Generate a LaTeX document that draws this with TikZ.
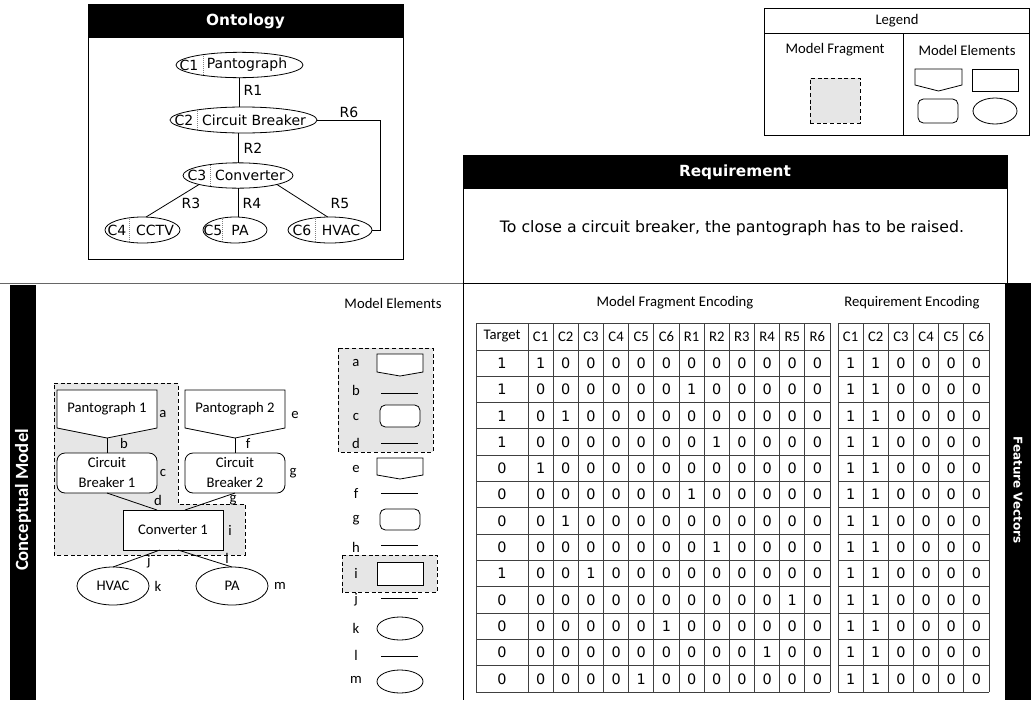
\documentclass[tikz,border=0pt]{standalone}
\usepackage{fontspec}
\setmainfont{Carlito}
\newfontfamily\vfont{DejaVu Sans}
\usetikzlibrary{calc,shapes.geometric}
\definecolor{fraggray}{HTML}{E6E6E6}
\definecolor{tblline}{HTML}{404040}
\begin{document}
\begin{tikzpicture}[x=0.75pt,y=-0.75pt, line width=0.6pt,
  every node/.style={inner sep=0pt, outer sep=0pt},
  cal/.style={font=\fontsize{11}{15}\selectfont},
  ver/.style={font=\vfont\fontsize{10.5}{12}\selectfont},
  dig/.style={font=\vfont\fontsize{10.8}{12}\selectfont},
  hdr/.style={text=white, font=\vfont\bfseries\fontsize{11.5}{13}\selectfont},
  onto/.style={draw, ellipse, minimum height=19pt},
  dotsep/.style={path picture={\draw[densely dotted, line width=0.5pt, gray]
      ([xshift=#1]path picture bounding box.north west) --
      ([xshift=#1]path picture bounding box.south west);}},
  frag/.style={draw, dash pattern=on 3pt off 2pt, fill=fraggray, line width=0.6pt},
  tbl/.style={draw=tblline, line width=0.7pt},
  elem/.style={draw, fill=white}
]
\useasboundingbox (0,0) rectangle (1031,700);

% ---------------- global frame lines ----------------
\draw[gray!80!black] (0,283) -- (1031,283);
\draw (463,155) rectangle (1007,283);
\draw (463,283) -- (463,700);

% ---------------- Ontology ----------------
\fill (88,4) rectangle (403,38);
\draw (88,4) rectangle (403,259);
\node[hdr] (ontot) at (245.5,21) {Ontology};

\node[onto, minimum width=95.25pt, dotsep=20.25pt] (c1) at (239.5,65) {};
\node[onto, minimum width=110.25pt, minimum height=19.5pt, dotsep=20.25pt] (c2) at (243.5,120) {};
\node[onto, minimum width=82.5pt, dotsep=20.25pt] (c3) at (238,175.5) {};
\node[onto, minimum width=56.25pt, minimum height=19.5pt, dotsep=18pt] (c4) at (142.5,230) {};
\node[onto, minimum width=48pt, minimum height=19.5pt, dotsep=14.25pt] (c5) at (235,230) {};
\node[onto, minimum width=63pt, minimum height=19.5pt, dotsep=20.25pt] (c6) at (330,230) {};

\node[ver] (c1id) at (189,65) {C1};   \node[ver] (c1tx) at (247,65) {Pantograph};
\node[ver] (c2id) at (184,120) {C2};  \node[ver] (c2tx) at (254,120) {Circuit Breaker};
\node[ver] (c3id) at (197,175.5) {C3}; \node[ver] (c3tx) at (250,175.5) {Converter};
\node[ver] (c4id) at (117,230) {C4};  \node[ver] (c4tx) at (155,230) {CCTV};
\node[ver] (c5id) at (213,230) {C5};  \node[ver] (c5tx) at (240,230) {PA};
\node[ver] (c6id) at (302,230) {C6};  \node[ver] (c6tx) at (341,230) {HVAC};

\draw (c1.south) -- (c1.south |- c2.north);
\draw (c3.north |- c2.south) -- (c3.north);
\draw (c3.south) -- (c3.south |- c5.north);
\draw (c3.south west) -- (c4.75);
\draw (c3.south east) -- (c6.100);
\draw (c2.east) -- ++(63,0) coordinate (r6c) |- (c6.east);

\node[ver] (r1) at (253,90) {R1};
\node[ver] (r2) at (253,148) {R2};
\node[ver] (r3) at (191,203) {R3};
\node[ver] (r4) at (252,203) {R4};
\node[ver] (r5) at (340,203) {R5};
\node[ver] (r6) at (349,112) {R6};

% ---------------- Legend ----------------
\draw (764,8) rectangle (1029,135);
\draw (764,33) -- (1029,33);
\draw (903,33) -- (903,135);
\node[cal] (lgt) at (897,21) {Legend};
\node[cal] (lgmf) at (835,50) {Model Fragment};
\node[cal] (lgme) at (967,50) {Model Elements};
\node[frag, minimum width=37.5pt, minimum height=33.75pt] (lgfrag) at (835,100.5) {};
\node[minimum width=35.25pt, minimum height=12pt] (lgpent) at (938.5,77) {};
\draw (lgpent.north west) -- (lgpent.north east) -- (lgpent.south east) -- ($(lgpent.south)+(0,6)$) -- (lgpent.south west) -- cycle;
\node[draw, minimum width=34.5pt, minimum height=16.5pt] (lgrect) at (995,80) {};
\node[draw, rounded corners=4pt, minimum width=30pt, minimum height=18pt] (lground) at (938,111) {};
\node[draw, ellipse, minimum width=33pt, minimum height=19.5pt] (lgell) at (995,111) {};

% ---------------- Requirement ----------------
\fill (463,155) rectangle (1007,189);
\node[hdr] (reqt) at (735,172) {Requirement};
\node[font=\vfont\fontsize{11.8}{13}\selectfont] (reqtext) at (732,228)
  {To close a circuit breaker, the pantograph has to be raised.};

% ---------------- side bars ----------------
\fill (10,285) rectangle (36,700);
\node[rotate=90, text=white, font=\bfseries\fontsize{14}{16}\selectfont] (cmt) at (23,500) {Conceptual Model};
\fill (1005,283) rectangle (1031,700);
\node[rotate=-90, text=white, font=\vfont\bfseries\fontsize{9}{11}\selectfont] (fvt) at (1018,490) {Feature Vectors};

% ---------------- Conceptual model ----------------
\path[frag] (54,383) -- (178,383) -- (178,504) -- (245,504) -- (245,555) -- (54,555) -- cycle;

\node[cal, minimum width=75pt, minimum height=28.5pt] (p1) at (107,409) {};
\filldraw[fill=white] (p1.north west) -- (p1.north east) -- (p1.south east) -- ($(p1.south)+(0,10)$) coordinate (p1tip) -- (p1.south west) -- cycle;
\node[cal] (p1tx) at (p1) {Pantograph 1};
\node[cal, minimum width=75pt, minimum height=28.5pt] (p2) at (235,409) {};
\filldraw[fill=white] (p2.north west) -- (p2.north east) -- (p2.south east) -- ($(p2.south)+(0,10)$) coordinate (p2tip) -- (p2.south west) -- cycle;
\node[cal] (p2tx) at (p2) {Pantograph 2};

\node[cal, elem, rounded corners=6pt, minimum width=75pt, minimum height=30pt, align=center] (cb1) at (107,473) {Circuit\\Breaker 1};
\node[cal, elem, rounded corners=6pt, minimum width=75pt, minimum height=30pt, align=center] (cb2) at (235,473) {Circuit\\Breaker 2};
\node[cal, elem, minimum width=75pt, minimum height=30pt] (conv) at (173,530) {Converter 1};
\node[cal, elem, ellipse, minimum width=54pt, minimum height=28.5pt] (hvac) at (113,586) {HVAC};
\node[cal, elem, ellipse, minimum width=54pt, minimum height=28.5pt] (pa) at (232,586) {PA};

\draw (p1tip) -- (cb1.north);
\draw (p2tip) -- (cb2.north);
\draw (cb1.south) -- ($(conv.north west)!0.34!(conv.north east)$);
\draw (cb2.south) -- ($(conv.north west)!0.62!(conv.north east)$);
\draw ($(conv.south west)!0.37!(conv.south east)$) -- (hvac.north);
\draw ($(conv.south west)!0.55!(conv.south east)$) -- (pa.north);

\node[cal] (la) at (163,414) {a};
\node[cal] (lb) at (124,443) {b};
\node[cal] (lc) at (163,473) {c};
\node[cal] (ld) at (158,500) {d};
\node[cal] (le) at (295,415) {e};
\node[cal] (lf) at (248,443) {f};
\node[cal] (lg) at (293,473) {g};
\node[cal] (lg2) at (233,500) {g};
\node[cal] (li) at (230,530) {i};
\node[cal] (lj) at (149,562) {j};
\node[cal] (lk) at (158,586) {k};
\node[cal] (ll) at (227,558) {l};
\node[cal] (lm) at (280,586) {m};

% ---------------- Model elements column ----------------
\node[cal] (met) at (393,303) {Model Elements};
\path[frag] (338,348) rectangle (433,452);
\path[frag] (342,555) rectangle (437,592);

\node[minimum width=34.5pt, minimum height=13.5pt] (mea) at (400,363) {};
\filldraw[fill=white] (mea.north west) -- (mea.north east) -- (mea.south east) -- ($(mea.south)+(0,4)$) -- (mea.south west) -- cycle;
\draw (381,393) -- (418,393);
\node[elem, rounded corners=4pt, minimum width=30pt, minimum height=16.5pt] (mec) at (400,416) {};
\draw (381,443) -- (418,443);
\node[minimum width=34.5pt, minimum height=12.75pt] (mee) at (400,466.5) {};
\filldraw[fill=white] (mee.north west) -- (mee.north east) -- (mee.south east) -- ($(mee.south)+(0,4)$) -- (mee.south west) -- cycle;
\draw (381,493) -- (418,493);
\node[elem, rounded corners=4pt, minimum width=30pt, minimum height=15.75pt] (meg) at (400,519.5) {};
\draw (381,545) -- (418,545);
\node[elem, minimum width=34.5pt, minimum height=17.25pt] (mei) at (400,573.5) {};
\draw (381,598) -- (418,598);
\node[elem, ellipse, minimum width=34.5pt, minimum height=17.25pt] (mek) at (400,628.5) {};
\draw (381,656) -- (418,656);
\node[elem, ellipse, minimum width=34.5pt, minimum height=17.25pt] (mem) at (400,681.5) {};

\foreach \t/\yy in {a/363,b/390,c/417,d/443,e/469,f/493,g/520,h/547,i/573,j/600,k/628,l/655,m/680}
  \node[cal] (mel-\t) at (356,\yy) {\t};

% ---------------- Tables ----------------
\node[cal] (mfe) at (675,303) {Model Fragment Encoding};
\node[cal] (rqe) at (912,303) {Requirement Encoding};

% table 1 grid
\draw[tbl] (476,323) -- (476,692);
\foreach \k in {0,...,12}
  \draw[tbl] ({528+\k*25.1667},323) -- ({528+\k*25.1667},692);
\draw[tbl] (476,323) -- (830,323);
\foreach \k in {0,...,13}
  \draw[tbl] (476,{350+\k*26.3077}) -- (830,{350+\k*26.3077});
% table 2 grid
\foreach \k in {0,...,6}
  \draw[tbl] ({838+\k*25.1667},323) -- ({838+\k*25.1667},692);
\draw[tbl] (838,323) -- (989,323);
\foreach \k in {0,...,13}
  \draw[tbl] (838,{350+\k*26.3077}) -- (989,{350+\k*26.3077});

% headers
\node[cal] (h1-0) at (502,336.5) {Target};
\foreach \n [count=\j] in {C1,C2,C3,C4,C5,C6,R1,R2,R3,R4,R5,R6}
  \node[cal] (h1-\j) at ({528+(\j-0.5)*25.1667},336.5) {\n};
\foreach \n [count=\j] in {C1,C2,C3,C4,C5,C6}
  \node[cal] (h2-\j) at ({838+(\j-0.5)*25.1667},336.5) {\n};

% data
\foreach \row [count=\r] in {
  {1,1,0,0,0,0,0,0,0,0,0,0,0},
  {1,0,0,0,0,0,0,1,0,0,0,0,0},
  {1,0,1,0,0,0,0,0,0,0,0,0,0},
  {1,0,0,0,0,0,0,0,1,0,0,0,0},
  {0,1,0,0,0,0,0,0,0,0,0,0,0},
  {0,0,0,0,0,0,0,1,0,0,0,0,0},
  {0,0,1,0,0,0,0,0,0,0,0,0,0},
  {0,0,0,0,0,0,0,0,1,0,0,0,0},
  {1,0,0,1,0,0,0,0,0,0,0,0,0},
  {0,0,0,0,0,0,0,0,0,0,0,1,0},
  {0,0,0,0,0,0,1,0,0,0,0,0,0},
  {0,0,0,0,0,0,0,0,0,0,1,0,0},
  {0,0,0,0,0,1,0,0,0,0,0,0,0}} {
  \pgfmathsetmacro\yy{350+(\r-0.5)*26.3077}
  \foreach \v [count=\c] in \row {
    \pgfmathsetmacro\xx{\c==1 ? 502 : 528+(\c-1.5)*25.1667}
    \node[dig] (t1-\r-\c) at (\xx,\yy) {\v};
  }
  \foreach \v [count=\c] in {1,1,0,0,0,0} {
    \node[dig] (t2-\r-\c) at ({838+(\c-0.5)*25.1667},\yy) {\v};
  }
}
\end{tikzpicture}
\end{document}
